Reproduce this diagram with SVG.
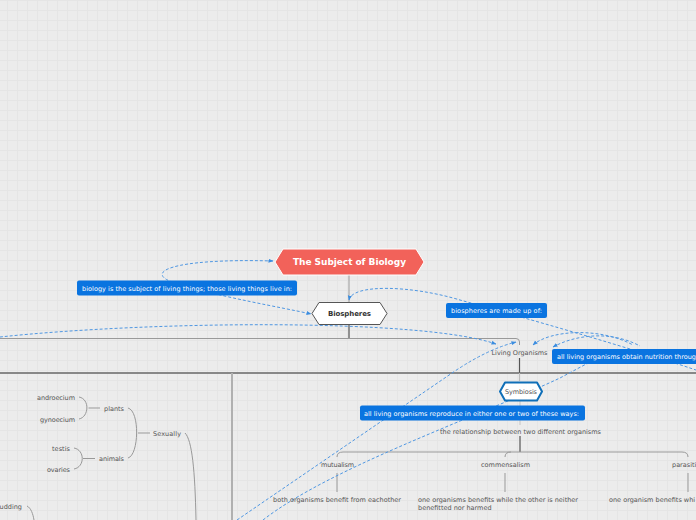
<svg xmlns="http://www.w3.org/2000/svg" width="696" height="520" viewBox="0 0 696 520">
<defs>
<pattern id="grid" width="10" height="10" patternUnits="userSpaceOnUse" x="7" y="0">
<rect width="10" height="10" fill="#ececec"/>
<path d="M0,0.5 H10 M0.5,0 V10" stroke="#e5e5e5" stroke-width="1" fill="none"/>
</pattern>
<marker id="arr" viewBox="0 0 10 10" refX="9" refY="5" markerWidth="5" markerHeight="5" orient="auto-start-reverse" markerUnits="userSpaceOnUse">
<path d="M0,1 L10,5 L0,9 z" fill="#3b8de0"/>
</marker>
<style>
.t{font-family:"DejaVu Sans","Liberation Sans",sans-serif;font-size:6.5px;fill:#555}
.w{font-family:"DejaVu Sans","Liberation Sans",sans-serif;font-size:6.5px;fill:#ffffff}
.b{font-family:"DejaVu Sans","Liberation Sans",sans-serif;font-weight:bold}
.rel{fill:none;stroke:#4f97e2;stroke-width:1;stroke-dasharray:3 2}
.lab{fill:#0a74e0}
.ln{fill:none;stroke:#999;stroke-width:1}
.dk{fill:none;stroke:#555;stroke-width:1.2}
</style>
</defs>
<rect width="696" height="520" fill="url(#grid)"/>

<g id="connectors">
<path class="ln" d="M349,275 V302" stroke="#666"/>
<path class="dk" d="M349,325 V339"/>
<path class="ln" d="M0,338.5 H516 Q519.5,338.5 519.5,342 V345" stroke="#888"/>
<path class="dk" d="M519.5,358 V373" stroke="#444"/>
<path d="M0,373 H696" stroke="#666" stroke-width="1.5" fill="none"/>
<path d="M519.5,373 V381" stroke="#bbb" stroke-width="1.2" fill="none"/>
<path d="M232,373 V520" stroke="#b0b0b0" stroke-width="2" fill="none"/>
<path d="M520,401 V425" stroke="#c4c4c4" stroke-width="1" fill="none"/>
<path class="dk" d="M520,436 V452"/>
<path class="ln" d="M337,457 Q337,452 343,452 H682 Q688,452 688,457" stroke="#aaa" stroke-width="1.3"/>
<path class="ln" d="M505,457 Q505,452 511,452" stroke="#aaa" stroke-width="1.3"/>
<path class="ln" d="M337,473 V492 M505,473 V492 M688,473 V492" stroke="#aaa"/>
<path class="ln" d="M79,397 C90,399 89,417 79,419 M88.5,408 H100"/>
<path class="ln" d="M74,448 C85,450 85,467 74,469 M83,458.5 H95"/>
<path class="ln" d="M128,408 C140,411 139,455 128,458 M138,433 H150"/>
<path class="ln" d="M185,433 C192,440 195,470 196,520"/>
<path class="ln" d="M27,506 C31,508 33,514 34,520"/>

<path class="rel" d="M273,261 C170,258 140,273 178,284 C225,298 280,307 311,314" marker-start="url(#arr)" marker-end="url(#arr)"/>
<path class="rel" d="M349,300 C352,284 410,285 460,300 C540,322 630,348 696,370" marker-start="url(#arr)"/>
<path class="rel" d="M0,337 C150,321 420,318 496,344" marker-end="url(#arr)"/>
<path class="rel" d="M237,520 L455,371 Q488,349 516,342" marker-end="url(#arr)"/>
<path class="rel" d="M263,520 C330,468 470,420 560,378 L590,362"/>
<path class="rel" d="M533,345 C550,330 600,327 633,345" marker-start="url(#arr)"/>
<path class="rel" d="M553,347 C575,335 610,330 640,346" marker-start="url(#arr)"/>
</g>

<g id="subject">
<path d="M275,262 L283,249 H416 L424,262 L416,275 H283 Z" fill="#f2625a" stroke="#ffffff" stroke-width="1"/>
<text class="b" x="349.5" y="265" font-size="9" fill="#ffffff" text-anchor="middle" textLength="113">The Subject of Biology</text>
</g>

<g id="biospheres">
<path d="M312,313.5 L319,302.5 H380 L387,313.5 L380,324.5 H319 Z" fill="#ffffff" stroke="#555" stroke-width="1"/>
<text class="b" x="349.5" y="316" font-size="7" fill="#333" text-anchor="middle" textLength="43">Biospheres</text>
</g>

<g id="label-biology">
<rect class="lab" x="77" y="280.5" width="220" height="15" rx="2"/>
<text class="w" x="82" y="290.5" textLength="210">biology is the subject of living things; those living things live in:</text>
</g>

<g id="label-biospheres">
<rect class="lab" x="446" y="303" width="101" height="15" rx="2"/>
<text class="w" x="451" y="313" textLength="91">biospheres are made up of:</text>
</g>

<g id="label-nutrition">
<rect class="lab" x="552" y="349" width="150" height="15" rx="2"/>
<text class="w" x="557" y="359" textLength="139">all living organisms obtain nutrition throug</text>
</g>

<g id="living-organisms">
<text class="t" x="519.5" y="355" text-anchor="middle" textLength="56">Living Organisms</text>
</g>

<g id="symbiosis">
<path d="M500,391.5 L505,382.5 H537 L542,391.5 L537,400.5 H505 Z" fill="#ffffff" stroke="#0f6fb8" stroke-width="2" stroke-linejoin="round"/>
<text class="t" x="521" y="393.5" text-anchor="middle" textLength="32">Symbiosis</text>
</g>

<g id="label-reproduce">
<rect class="lab" x="360" y="405.5" width="225" height="15" rx="2"/>
<text class="w" x="364" y="415.5" textLength="215">all living organisms reproduce in either one or two of these ways:</text>
</g>

<g id="relationship">
<text class="t" x="520.5" y="433.5" text-anchor="middle" textLength="161">the relationship between two different organisms</text>
</g>

<g id="mutualism">
<text class="t" x="337.5" y="467" text-anchor="middle" textLength="33">mutualism</text>
</g>
<g id="commensalism">
<text class="t" x="505.5" y="467" text-anchor="middle" textLength="49">commensalism</text>
</g>
<g id="parasitism">
<text class="t" x="672" y="467">parasiti</text>
</g>
<g id="mutualism-desc">
<text class="t" x="337" y="502" text-anchor="middle" textLength="128">both organisms benefit from eachother</text>
</g>
<g id="commensalism-desc">
<text class="t" x="418" y="502" textLength="160">one organisms benefits while the other is neither</text>
<text class="t" x="418" y="510">benefitted nor harmed</text>
</g>
<g id="parasitism-desc">
<text class="t" x="609" y="502">one organism benefits whi</text>
</g>

<g id="androecium"><text class="t" x="75" y="400" text-anchor="end" textLength="38">androecium</text></g>
<g id="gynoecium"><text class="t" x="75" y="422" text-anchor="end" textLength="35">gynoecium</text></g>
<g id="plants"><text class="t" x="104" y="411" textLength="20">plants</text></g>
<g id="testis"><text class="t" x="70" y="451" text-anchor="end" textLength="18">testis</text></g>
<g id="ovaries"><text class="t" x="70" y="472" text-anchor="end" textLength="23">ovaries</text></g>
<g id="animals"><text class="t" x="99" y="461" textLength="25">animals</text></g>
<g id="sexually"><text class="t" x="153" y="436" textLength="28">Sexually</text></g>
<g id="budding"><text class="t" x="22" y="509" text-anchor="end">udding</text></g>
</svg>
